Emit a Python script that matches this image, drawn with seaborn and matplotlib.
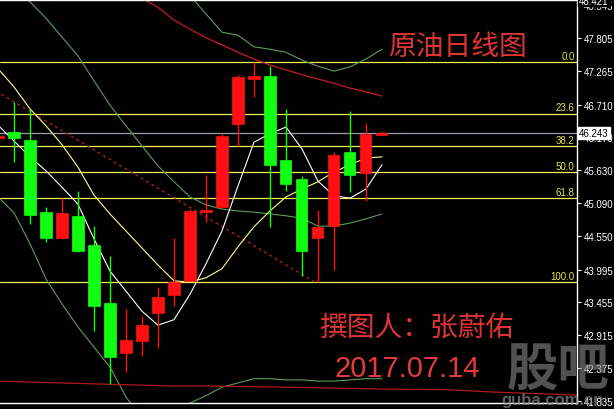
import matplotlib
matplotlib.use('Agg')
import matplotlib.pyplot as plt
import matplotlib.transforms as mtransforms
import numpy as np
import seaborn as sns

# crude oil daily candles (red = up day, green = down day), day -1 is cut at the left edge
days   = list(range(-1, 24))
opens  = [46.16, 46.26, 46.13, 44.94, 44.52, 44.88, 44.40, 43.45, 42.62, 42.82, 43.28, 43.58, 43.81,
          44.95, 45.03, 46.39, 47.13, 47.18, 45.80, 45.49, 44.52, 44.71, 45.93, 45.59, 46.21]
highs  = [46.19, 46.75, 46.64, 45.03, 45.17, 45.29, 44.71, 44.22, 43.35, 43.23, 43.71, 44.52, 44.99,
          45.55, 46.23, 47.20, 47.41, 47.34, 46.64, 45.54, 44.98, 45.93, 46.60, 46.41, 46.27]
lows   = [46.16, 45.77, 44.75, 44.45, 44.50, 44.29, 42.99, 42.11, 42.31, 42.58, 42.71, 43.40, 43.80,
          44.78, 45.01, 46.03, 46.84, 44.70, 45.29, 43.89, 43.79, 43.99, 45.27, 45.12, 46.21]
closes = [46.19, 46.16, 44.89, 44.52, 44.93, 44.30, 43.40, 42.56, 42.84, 43.09, 43.55, 43.79, 44.96,
          44.98, 46.19, 47.16, 47.18, 45.72, 45.40, 44.30, 44.70, 45.88, 45.55, 46.23, 46.243]

# moving averages / bands
ma_white  = [46.37, 46.11, 45.85, 45.62, 45.35, 45.07, 44.50, 43.97, 43.64, 43.31, 43.08, 43.17, 43.59,
             44.09, 44.63, 45.37, 46.09, 46.23, 46.34, 45.98, 45.45, 45.21, 45.17, 45.32, 45.72]
ma_yellow = [47.30, 47.00, 46.64, 46.36, 46.05, 45.68, 45.22, 44.91, 44.63, 44.35, 44.07, 43.81, 43.79,
             43.86, 44.01, 44.37, 44.70, 44.96, 45.19, 45.32, 45.44, 45.60, 45.72, 45.83, 45.85]
band_mid  = [48.94, 48.69, 48.40, 48.13, 47.82, 47.51, 47.10, 46.70, 46.36, 46.03, 45.70, 45.44, 45.19,
             45.06, 44.99, 44.96, 44.94, 44.91, 44.88, 44.84, 44.71, 44.71, 44.76, 44.83, 44.91]
band_low  = [45.19, 44.93, 44.42, 43.84, 43.43, 43.05, 42.72, 42.39, 41.90, 41.54, 41.37, 41.57, 41.80,
             41.92, 42.06, 42.13, 42.20, 42.20, 42.18, 42.18, 42.16, 42.16, 42.18, 42.20, 42.20]
up_days   = list(range(9, 24))
band_up   = [49.10, 48.78, 48.50, 48.20, 47.90, 47.85, 47.66, 47.62, 47.57, 47.44, 47.34, 47.26, 47.33,
             47.46, 47.62]
red_days  = list(range(6, 24))
ma_red    = [48.91, 48.66, 48.46, 48.31, 48.10, 47.95, 47.81, 47.69, 47.57, 47.46, 47.36, 47.28, 47.20,
             47.13, 47.06, 46.98, 46.92, 46.85]
long_days = [-1, 3, 7, 10, 12, 17, 23, 27, 30, 35.2]
ma_long   = [42.16, 42.13, 42.10, 42.08, 42.08, 42.06, 42.03, 42.02, 41.98, 41.93]

trend_x = [-0.8, 18.8]
trend_y = [46.88, 43.79]

fib_labels = ['0.0', '23.6', '38.2', '50.0', '61.8', '100.0']
fib_prices = [47.41, 46.56, 46.03, 45.60, 45.17, 43.79]
last_price = 46.243

yticks = [48.345, 47.805, 47.265, 46.710, 46.170, 45.630, 45.090, 44.550,
          43.995, 43.455, 42.915, 42.375, 41.835]

sns.set_style('dark', {'axes.facecolor': 'black', 'figure.facecolor': 'black'})
plt.rcParams['font.family'] = ['Liberation Sans', 'DejaVu Sans']
cjk = ['Noto Sans CJK SC', 'DejaVu Sans']

fig = plt.figure(figsize=(6.14, 4.10), dpi=100, facecolor='black')
ax = fig.add_axes([0, 6 / 410, 577 / 614, 403 / 410])
ax.set_facecolor('black')
ax.set_xlim(-0.875, 35.19)
ax.set_ylim(41.80, 48.43)

# fibonacci levels and current price
for p in fib_prices:
    ax.axhline(p, color='#eeee55', lw=0.9, zorder=1)
ax.axhline(last_price, color='#9c9cac', lw=0.9, zorder=1)
tr = mtransforms.blended_transform_factory(ax.transAxes, ax.transData)
for lab, p in zip(fib_labels, fib_prices):
    ax.text(0.996, p + 0.02, lab, transform=tr, ha='right', va='bottom',
            color='#e4e44a', fontsize=7)

# indicator lines
sns.lineplot(x=days, y=band_mid, ax=ax, color='#5c9c5c', lw=0.8, sort=False)
sns.lineplot(x=days, y=band_low, ax=ax, color='#5c9c5c', lw=0.8, sort=False)
sns.lineplot(x=up_days, y=band_up, ax=ax, color='#5c9c5c', lw=0.8, sort=False)
sns.lineplot(x=red_days, y=ma_red, ax=ax, color='#c41e1e', lw=0.9, sort=False)
sns.lineplot(x=long_days, y=ma_long, ax=ax, color='#b01818', lw=0.9, sort=False)
sns.lineplot(x=trend_x, y=trend_y, ax=ax, color='#b02424', lw=0.9, sort=False,
             linestyle=(0, (2.5, 2.5)))
sns.lineplot(x=days, y=ma_yellow, ax=ax, color='#ffff88', lw=0.8, sort=False)
sns.lineplot(x=days, y=ma_white, ax=ax, color='white', lw=0.8, sort=False)

# candles
o = np.array(opens); c = np.array(closes)
cols = ['#ff1010' if cc >= oo else '#10ff10' for oo, cc in zip(o, c)]
ax.vlines(days, lows, highs, colors=cols, lw=1, zorder=3)
ax.bar(days, np.abs(c - o), bottom=np.minimum(o, c), width=0.69, color=cols,
       edgecolor=cols, linewidth=0.5, zorder=4)

# axes styling
ax.spines['left'].set_visible(False)
for s in ['top', 'right', 'bottom']:
    ax.spines[s].set_color('white')
    ax.spines[s].set_linewidth(1)
ax.yaxis.tick_right()
ax.set_yticks(yticks)
ax.set_yticklabels([f'{t:.3f}' for t in yticks])
ax.tick_params(axis='y', colors='white', labelcolor='white', length=3, width=0.8,
               labelsize=7, pad=2, direction='out')
ax.set_xticks(list(range(2, 36, 4)))
ax.set_xticklabels([])
ax.tick_params(axis='x', colors='white', length=4, width=0.8, direction='out')
ax.set_xlabel('')
ax.set_ylabel('')
ax.grid(False)

ax.text(1.004, last_price, '46.243', transform=tr, ha='left', va='center', color='black',
        fontsize=7, clip_on=False,
        bbox=dict(facecolor='white', edgecolor='white', pad=0.6))
ax.text(1.004, 48.421, '48.421', transform=tr, ha='left', va='center', color='white',
        fontsize=7, clip_on=False,
        bbox=dict(facecolor='black', edgecolor='black', pad=0.6))

# titles
fig.text(457 / 614, 1 - 47 / 410, '原油日线图', color='#e03434', fontsize=20,
         ha='center', va='center', family=cjk, fontweight='light')
fig.text(416 / 614, 1 - 328 / 410, '撰图人：张蔚佑', color='#e03434', fontsize=20,
         ha='center', va='center', family=cjk, fontweight='light')
fig.text(407 / 614, 1 - 369 / 410, '2017.07.14', color='#e83a3a', fontsize=21,
         ha='center', va='center')

# watermark
fig.text(558 / 614, 1 - 370 / 410, '股吧', color='#8a8a8a', alpha=0.6, fontsize=37,
         ha='center', va='center', family=cjk, fontweight='bold')
fig.text(553 / 614, 1 - 401 / 410, 'guba.com.cn', color='#8a8a8a', alpha=0.7, fontsize=12,
         ha='center', va='center', fontweight='bold')

fig.savefig('out.png', dpi=100, facecolor='black')
